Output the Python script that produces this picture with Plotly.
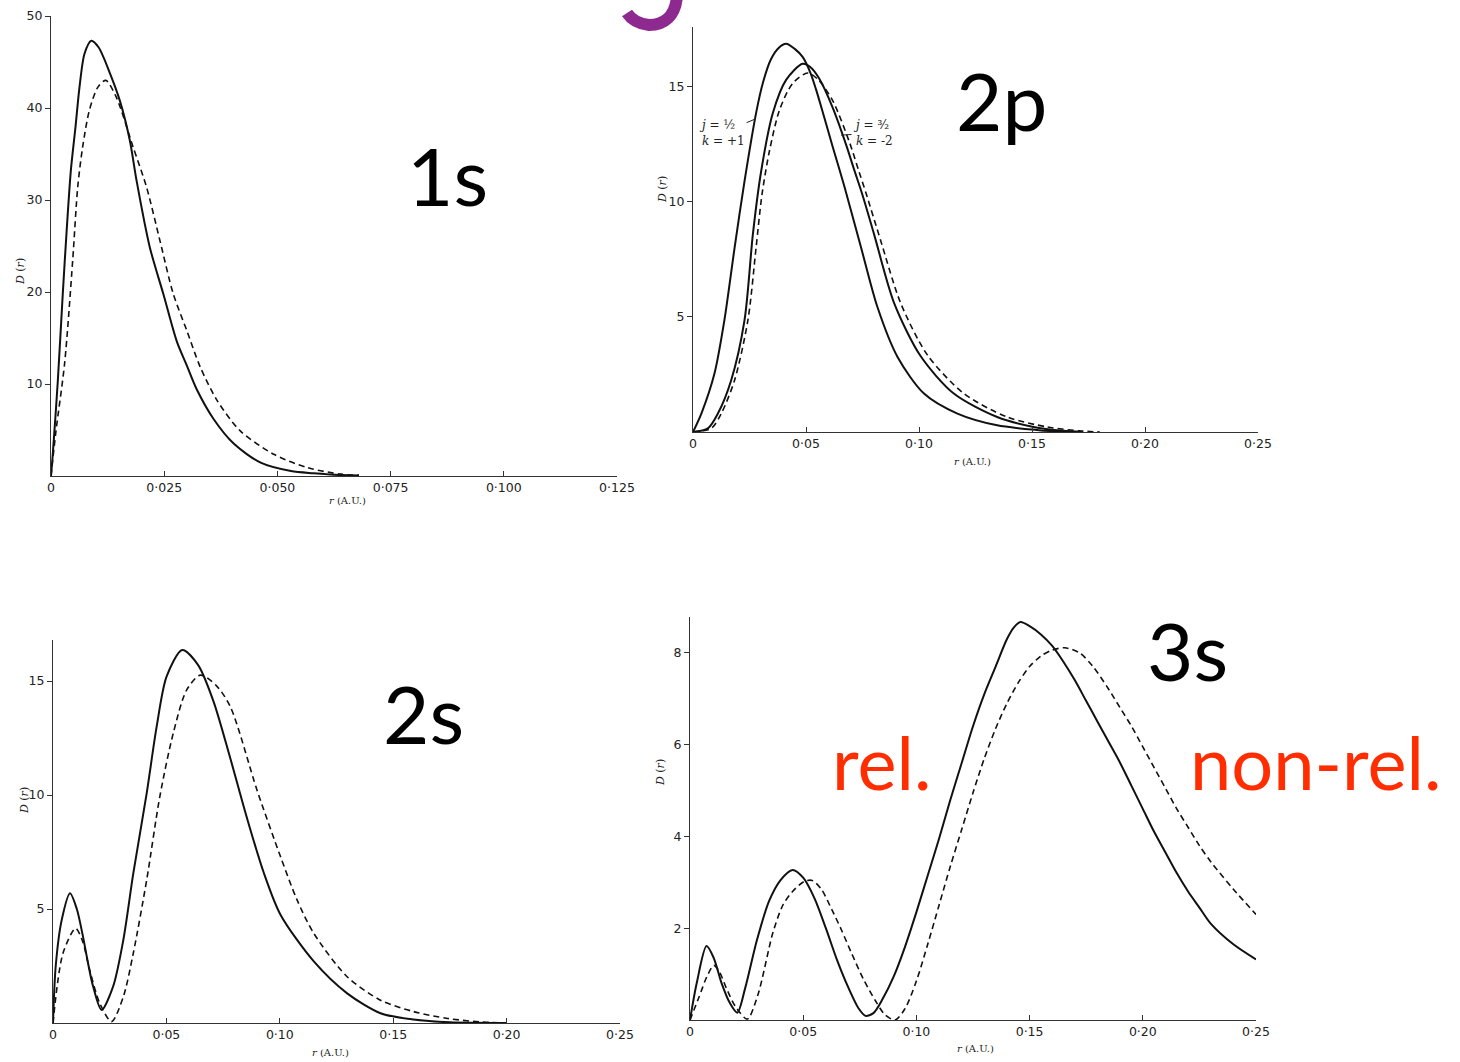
import plotly.graph_objects as go

W, H = 1460, 1062

# ---------------- data ----------------
# 1s
r_1s_rel = [0, 0.0004, 0.0015, 0.0026, 0.0035, 0.0044, 0.0054, 0.0063, 0.0074, 0.0089, 0.0105, 0.013, 0.0152,
            0.0174, 0.0189, 0.0218, 0.0248, 0.0278, 0.030, 0.0322, 0.0359, 0.0404, 0.0463, 0.053, 0.058, 0.064, 0.068]
D_1s_rel = [0, 2.4, 10.3, 19.8, 27.0, 33.3, 37.9, 42.3, 45.9, 47.3, 46.6, 43.8, 40.8,
            36.5, 32.1, 24.9, 19.8, 14.6, 12.0, 9.4, 6.2, 3.5, 1.45, 0.54, 0.3, 0.1, 0.05]
r_1s_nonrel = [0, 0.0011, 0.003, 0.0048, 0.0059, 0.007, 0.0085, 0.0104, 0.0121, 0.0144, 0.0181, 0.0211, 0.0241,
               0.027, 0.030, 0.033, 0.0367, 0.0418, 0.0492, 0.0567, 0.064, 0.068]
D_1s_nonrel = [0, 4.9, 12.2, 23.5, 31.4, 35.8, 39.8, 42.3, 43.0, 41.2, 35.8, 31.4, 25.5,
               19.8, 15.8, 11.8, 8.2, 4.9, 2.36, 0.9, 0.2, 0.1]

# 2p
r_2p_j12 = [0, 0.0037, 0.0095, 0.0139, 0.0184, 0.0228, 0.028, 0.031, 0.0345, 0.038, 0.0412, 0.045, 0.0485, 0.052,
            0.0544, 0.058, 0.0618, 0.0669, 0.0743, 0.0816, 0.0905, 0.1022, 0.117, 0.1346, 0.153, 0.165]
D_2p_j12 = [0, 0.8, 2.54, 4.86, 8.0, 10.9, 13.9, 15.2, 16.2, 16.7, 16.87, 16.65, 16.3, 15.6,
            14.9, 13.7, 12.4, 10.7, 8.04, 5.43, 3.26, 1.67, 0.8, 0.29, 0.08, 0.0]
r_2p_j32 = [0, 0.0066, 0.011, 0.0169, 0.0228, 0.0265, 0.0301, 0.0353, 0.0412, 0.0485, 0.052, 0.0559, 0.0618,
            0.0677, 0.0713, 0.075, 0.0801, 0.089, 0.1007, 0.1154, 0.1346, 0.1507, 0.164, 0.172]
D_2p_j32 = [0, 0.16, 0.8, 2.25, 4.86, 8.6, 11.3, 13.85, 15.3, 16.0, 15.85, 15.35, 14.1,
            12.5, 11.4, 10.3, 8.6, 5.6, 3.3, 1.67, 0.65, 0.22, 0.05, 0.0]
r_2p_nonrel = [0, 0.0081, 0.0125, 0.0184, 0.0243, 0.0279, 0.0305, 0.0338, 0.0383, 0.0441, 0.0507, 0.0555, 0.0618,
               0.0692, 0.0735, 0.0765, 0.0831, 0.0919, 0.1037, 0.1199, 0.139, 0.1567, 0.171, 0.18]
D_2p_nonrel = [0, 0.16, 0.8, 2.25, 4.86, 8.0, 10.3, 12.2, 14.0, 15.15, 15.6, 15.3, 14.4,
               12.6, 11.3, 10.4, 8.3, 5.6, 3.35, 1.67, 0.65, 0.22, 0.05, 0.0]

# 2s
r_2s_rel = [0, 0.0012, 0.0038, 0.0075, 0.0105, 0.0132, 0.0155, 0.0177, 0.0214, 0.0265, 0.031, 0.0354, 0.0413,
            0.0457, 0.0501, 0.057, 0.064, 0.0708, 0.0782, 0.0855, 0.0929, 0.1003, 0.115, 0.1297, 0.1444, 0.159,
            0.175, 0.2]
D_2s_rel = [0, 2.5, 4.5, 5.69, 5.0, 3.8, 2.6, 1.6, 0.57, 1.6, 3.64, 6.56, 10.07,
            13.0, 15.2, 16.36, 15.7, 14.1, 11.6, 9.0, 6.6, 4.75, 2.7, 1.30, 0.43, 0.15,
            0.03, 0.0]
r_2s_nonrel = [0, 0.0044, 0.0100, 0.0130, 0.0162, 0.0206, 0.0258, 0.031, 0.0354, 0.0413, 0.0471, 0.053, 0.0589,
               0.0650, 0.0720, 0.0782, 0.09, 0.1003, 0.1076, 0.115, 0.1297, 0.1444, 0.159, 0.174, 0.188, 0.2]
D_2s_nonrel = [0, 3.06, 4.15, 3.6, 2.32, 0.87, 0.06, 1.15, 3.06, 6.27, 9.93, 12.7, 14.6,
               15.26, 14.8, 13.87, 10.2, 7.3, 5.4, 3.93, 2.03, 1.0, 0.5, 0.2, 0.05, 0.0]

# 3s
r_3s_rel = [0, 0.003, 0.0073, 0.0105, 0.0139, 0.0175, 0.0209, 0.0244, 0.0296, 0.035, 0.040, 0.0453, 0.050, 0.055,
            0.060, 0.065, 0.070, 0.0745, 0.0775, 0.081, 0.085, 0.090, 0.095, 0.100, 0.105, 0.110, 0.115, 0.120,
            0.125, 0.130, 0.135, 0.140, 0.143, 0.146, 0.150, 0.155, 0.160, 0.165, 0.170, 0.175, 0.180, 0.185,
            0.190, 0.195, 0.200, 0.205, 0.210, 0.215, 0.220, 0.225, 0.230, 0.240, 0.250]
D_3s_rel = [0, 0.81, 1.61, 1.35, 0.81, 0.38, 0.16, 0.7, 1.75, 2.6, 3.05, 3.27, 3.1, 2.65,
            2.0, 1.3, 0.7, 0.25, 0.09, 0.15, 0.45, 0.95, 1.6, 2.35, 3.15, 3.95, 4.8, 5.6,
            6.4, 7.1, 7.7, 8.3, 8.55, 8.67, 8.58, 8.4, 8.15, 7.8, 7.4, 6.95, 6.5, 6.05,
            5.6, 5.1, 4.6, 4.1, 3.65, 3.2, 2.8, 2.45, 2.1, 1.65, 1.32]
r_3s_nonrel = [0, 0.004, 0.0075, 0.0105, 0.013, 0.016, 0.020, 0.0253, 0.030, 0.0366, 0.041, 0.0453, 0.0505, 0.054,
               0.058, 0.0627, 0.067, 0.0714, 0.0765, 0.0819, 0.086, 0.0906, 0.095, 0.100, 0.105, 0.110, 0.115,
               0.120, 0.125, 0.130, 0.135, 0.140, 0.145, 0.150, 0.155, 0.160, 0.1655, 0.172, 0.178, 0.185, 0.190,
               0.195, 0.200, 0.205, 0.210, 0.215, 0.220, 0.225, 0.230, 0.240, 0.250]
D_3s_nonrel = [0, 0.5, 0.95, 1.19, 1.05, 0.7, 0.3, 0.02, 0.55, 1.9, 2.5, 2.8, 3.02, 3.04,
               2.85, 2.4, 1.95, 1.45, 0.9, 0.42, 0.12, 0.0, 0.25, 0.85, 1.65, 2.5, 3.35,
               4.15, 4.95, 5.7, 6.35, 6.9, 7.35, 7.7, 7.93, 8.06, 8.11, 8.0, 7.7, 7.2, 6.8,
               6.4, 5.95, 5.5, 5.05, 4.6, 4.2, 3.8, 3.45, 2.85, 2.30]

# ticks
x_ticks_1s = [0, 0.025, 0.05, 0.075, 0.1, 0.125]
x_text_1s = ["0", "0·025", "0·050", "0·075", "0·100", "0·125"]
x_ticks_25 = [0, 0.05, 0.1, 0.15, 0.2, 0.25]
x_text_25 = ["0", "0·05", "0·10", "0·15", "0·20", "0·25"]
y_ticks_1s = [10, 20, 30, 40, 50]
y_ticks_2p = [5, 10, 15]
y_ticks_2s = [5, 10, 15]
y_ticks_3s = [2, 4, 6, 8]

# ---------------- layout helpers ----------------
def px_x(v):
    return v / W

def px_y(v):
    return 1 - v / H

# panel boxes in pixels: (left, right, bottom, top, x max, y max)
panels = [
    (51, 617, 476, 16, 0.125, 50.0),
    (693, 1258, 432, 27, 0.25, 17.6),
    (53, 620, 1023, 640, 0.25, 16.8),
    (690, 1256, 1020, 617, 0.25, 8.78),
]
xt = [(x_ticks_1s, x_text_1s), (x_ticks_25, x_text_25), (x_ticks_25, x_text_25), (x_ticks_25, x_text_25)]
yt = [y_ticks_1s, y_ticks_2p, y_ticks_2s, y_ticks_3s]

tickfont = dict(family="DejaVu Sans, sans-serif", size=12.5, color="#222")
fig = go.Figure()
layout = dict(template="none", width=W, height=H, autosize=False,
              margin=dict(l=0, r=0, t=0, b=0, pad=0, autoexpand=False),
              paper_bgcolor="white", plot_bgcolor="white", showlegend=False)

for i, (l, r, b, t, xmax, ymax) in enumerate(panels):
    n = "" if i == 0 else str(i + 1)
    layout["xaxis" + n] = dict(domain=[px_x(l), px_x(r)], range=[0, xmax], anchor="y" + n, automargin=False,
                               showgrid=False, zeroline=False, showline=True, linecolor="#333", linewidth=1.3,
                               ticks="inside", ticklen=5, tickcolor="#333", tickwidth=1,
                               tickvals=xt[i][0], ticktext=xt[i][1], tickfont=tickfont)
    layout["yaxis" + n] = dict(domain=[px_y(b), px_y(t)], range=[0, ymax], anchor="x" + n, automargin=False,
                               showgrid=False, zeroline=False, showline=True, linecolor="#333", linewidth=1.3,
                               ticks="outside", ticklen=5, tickcolor="#333", tickwidth=1,
                               tickvals=yt[i], tickfont=tickfont)

fig.update_layout(**layout)

solid = dict(color="#111", width=2)
dashed = dict(color="#111", width=1.6, dash="6px,4px")

series = [
    (r_1s_rel, D_1s_rel, solid, 1), (r_1s_nonrel, D_1s_nonrel, dashed, 1),
    (r_2p_j12, D_2p_j12, solid, 2), (r_2p_j32, D_2p_j32, solid, 2), (r_2p_nonrel, D_2p_nonrel, dashed, 2),
    (r_2s_rel, D_2s_rel, solid, 3), (r_2s_nonrel, D_2s_nonrel, dashed, 3),
    (r_3s_rel, D_3s_rel, solid, 4), (r_3s_nonrel, D_3s_nonrel, dashed, 4),
]
for xs, ys, ln, p in series:
    n = "" if p == 1 else str(p)
    fig.add_trace(go.Scatter(x=xs, y=ys, mode="lines", line=dict(**ln, shape="spline", smoothing=0.8),
                             xaxis="x" + n, yaxis="y" + n, hoverinfo="skip"))

ann = []
def label(text, x, y, size, color="#000", family="Lato, 'Open Sans', sans-serif", angle=0):
    ann.append(dict(text=text, x=px_x(x), y=px_y(y), xref="paper", yref="paper", showarrow=False,
                    xanchor="center", yanchor="middle", textangle=angle,
                    font=dict(size=size, color=color, family=family)))

big = 80
label("1s", 447, 175, big)
label("2p", 1001, 100, big)
label("2s", 423, 713, big)
label("3s", 1187, 650, big)
label("rel.", 881, 761, 74, color="#FF2D00")
label("non-rel.", 1315, 761, 74, color="#FF2D00")

axfont = "DejaVu Serif, serif"
for (x, y) in [(20, 272), (663, 190), (24, 800), (660, 773)]:
    label("<i>D</i> (<i>r</i>)", x, y, 11, color="#222", family=axfont, angle=-90)
for (x, y) in [(347, 500), (972, 461), (330, 1052), (975, 1048)]:
    label("<i>r</i> (A.U.)", x, y, 10, color="#222", family=axfont)

# 2p curve labels with leader lines
ann.append(dict(text="<i>j</i> = ½<br><i>k</i> = +1", x=0.0275, y=13.6, xref="x2", yref="y2",
                showarrow=True, arrowhead=0, arrowwidth=1, arrowcolor="#222", ax=-33, ay=14,
                font=dict(size=12, color="#222", family=axfont), align="left"))
ann.append(dict(text="<i>j</i> = ³⁄₂<br><i>k</i> = -2", x=0.0655, y=12.9, xref="x2", yref="y2",
                showarrow=True, arrowhead=0, arrowwidth=1, arrowcolor="#222", ax=32, ay=-2,
                font=dict(size=12, color="#222", family=axfont), align="left"))

fig.update_layout(annotations=ann)

# purple fragment of a cropped glyph at the top edge
def pt(x, y):
    return f"{px_x(x):.5f},{px_y(y):.5f}"

path = f"M {pt(677,-5)} C {pt(676,16)} {pt(664,25)} {pt(649,25)} C {pt(639,24)} {pt(631,19)} {pt(627,13)}"
fig.add_shape(type="path", path=path, xref="paper", yref="paper",
              line=dict(color="#8E2A8F", width=12))

fig.write_html("out.html", config={"displayModeBar": False},
               post_script="document.body.style.margin='0';document.body.style.overflow='hidden';")
